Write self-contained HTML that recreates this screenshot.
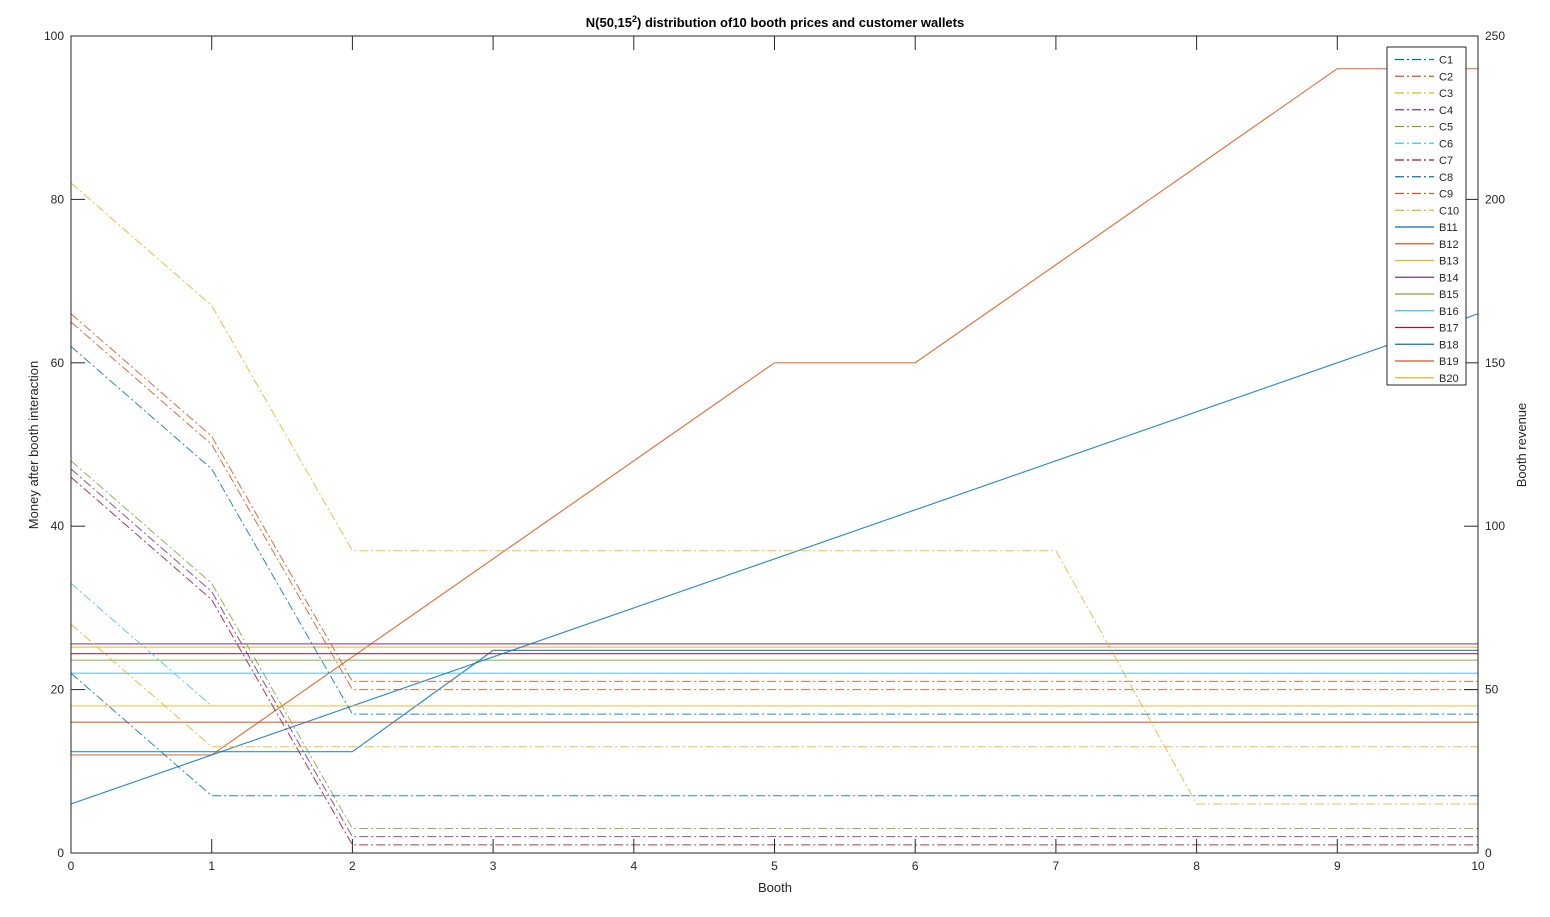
<!DOCTYPE html>
<html><head><meta charset="utf-8"><style>
body{margin:0;background:#fff}
svg text{font-family:"Liberation Sans",Arial,sans-serif;fill:#262626}
</style></head><body>
<svg id="chart" width="1550" height="912" xmlns="http://www.w3.org/2000/svg">
<rect x="0" y="0" width="1550" height="912" fill="#fff"/>
<g id="plot"></g>
<g id="axes"></g>
<g id="legend"></g>
</svg>
<script>
const booths=[0,1,2,3,4,5,6,7,8,9,10];
const custNames=["C1","C2","C3","C4","C5","C6","C7","C8","C9","C10"];
const C1=[62,47,17,17,17,17,17,17,17,17,17];
const C2=[66,51,21,21,21,21,21,21,21,21,21];
const C3=[82,67,37,37,37,37,37,37,6,6,6];
const C4=[47,32,2,2,2,2,2,2,2,2,2];
const C5=[48,33,3,3,3,3,3,3,3,3,3];
const C6=[33,18];
const C7=[46,31,1,1,1,1,1,1,1,1,1];
const C8=[22,7,7,7,7,7,7,7,7,7,7];
const C9=[65,50,20,20,20,20,20,20,20,20,20];
const C10=[28,13,13,13,13,13,13,13,13,13,13];
const boothNames=["B11","B12","B13","B14","B15","B16","B17","B18","B19","B20"];
const B11=[31,31,31,62,62,62,62,62,62,62,62];
const B12=[30,30,60,90,120,150,150,180,210,240,240];
const B13=[63,63,63,63,63,63,63,63,63,63,63];
const B14=[64,64,64,64,64,64,64,64,64,64,64];
const B15=[59,59,59,59,59,59,59,59,59,59,59];
const B16=[55,55,55,55,55,55,55,55,55,55,55];
const B17=[61,61,61,61,61,61,61,61,61,61,61];
const B18=[15,30,45,60,75,90,105,120,135,150,165];
const B19=[40,40,40,40,40,40,40,40,40,40,40];
const B20=[45,45,45,45,45,45,45,45,45,45,45];
const xTicks=[0,1,2,3,4,5,6,7,8,9,10];
const yLeftTicks=[0,20,40,60,80,100];
const yRightTicks=[0,50,100,150,200,250];
const colors=["#0072BD","#D95319","#EDB120","#7E2F8E","#77AC30","#4DBEEE","#A2142F"];

const X0=71,X1=1478,Y0=853,Y1=36;
const xs=v=>X0+(v-0)/10*(X1-X0);
const yl=v=>Y0-(v/100)*(Y0-Y1);
const yr=v=>Y0-(v/250)*(Y0-Y1);
const NS="http://www.w3.org/2000/svg";
function mk(tag,attrs,parent){const e=document.createElementNS(NS,tag);for(const k in attrs)e.setAttribute(k,attrs[k]);parent.appendChild(e);return e;}
const plot=document.getElementById('plot'),axes=document.getElementById('axes'),leg=document.getElementById('legend');

const boothData=[B11,B12,B13,B14,B15,B16,B17,B18,B19,B20];
boothData.forEach((d,i)=>{
  const pts=d.map((v,j)=>xs(booths[j])+","+yr(v)).join(" ");
  const p=mk('polyline',{points:pts,fill:"none",stroke:colors[i%7],"stroke-width":1.2,"stroke-opacity":0.8},plot);
  
  
});
const custData=[C1,C2,C3,C4,C5,C6,C7,C8,C9,C10];
custData.forEach((d,i)=>{
  const pts=d.map((v,j)=>xs(booths[j])+","+yl(v)).join(" ");
  const p=mk('polyline',{points:pts,fill:"none",stroke:colors[i%7],"stroke-width":1,"stroke-dasharray":"9,3,2,3","stroke-opacity":0.85},plot);
  
  
});

const box=mk('rect',{x:X0,y:Y1,width:X1-X0,height:Y0-Y1,fill:"none",stroke:"#262626","stroke-width":1},axes);


xTicks.forEach(t=>{
  const x=xs(t);
  mk('line',{x1:x,y1:Y0,x2:x,y2:Y0-14,stroke:"#262626"},axes);
  mk('line',{x1:x,y1:Y1,x2:x,y2:Y1+14,stroke:"#262626"},axes);
  const tx=mk('text',{x:x,y:Y0+17,"text-anchor":"middle","font-size":12},axes);tx.textContent=t;
  
  
});
yLeftTicks.forEach(t=>{
  const y=yl(t);
  mk('line',{x1:X0,y1:y,x2:X0+14,y2:y,stroke:"#262626"},axes);
  const tx=mk('text',{x:X0-7,y:y+4,"text-anchor":"end","font-size":12},axes);tx.textContent=t;
  
  
});
yRightTicks.forEach(t=>{
  const y=yr(t);
  mk('line',{x1:X1,y1:y,x2:X1-14,y2:y,stroke:"#262626"},axes);
  const tx=mk('text',{x:X1+7,y:y+4,"text-anchor":"start","font-size":12},axes);tx.textContent=t;
  
  
});
const lb=mk('rect',{x:1387,y:47,width:79,height:338,fill:"#fff",stroke:"#262626","stroke-width":1},leg);


const allNames=custNames.concat(boothNames);
allNames.forEach((n,i)=>{
  const y=59.5+i*16.75;
  const isC=i<10;
  const ln=mk('line',{x1:1395,y1:y,x2:1434,y2:y,stroke:colors[(i%10)%7],"stroke-width":1.2},leg);
  if(isC)ln.setAttribute('stroke-dasharray','9,3,2,3');
  
  
  const t=mk('text',{x:1439,y:y+4,"font-size":11},leg);t.textContent=n;
  
  
});
</script>
<svg style="position:absolute;left:0;top:0" width="1550" height="912">
<text x="775" y="27" text-anchor="middle" font-size="13" font-weight="bold" style="font-family:'Liberation Sans',Arial,sans-serif;fill:#000">N(50,15<tspan dy="-5" font-size="9">2</tspan><tspan dy="5">) distribution of10 booth prices and customer wallets</tspan></text>
<text x="775" y="892" text-anchor="middle" font-size="13" style="font-family:'Liberation Sans',Arial,sans-serif;fill:#262626">Booth</text>
<text x="38" y="445" text-anchor="middle" font-size="13" transform="rotate(-90 38 445)" style="font-family:'Liberation Sans',Arial,sans-serif;fill:#262626">Money after booth interaction</text>
<text x="1526" y="445" text-anchor="middle" font-size="13" transform="rotate(-90 1526 445)" style="font-family:'Liberation Sans',Arial,sans-serif;fill:#262626">Booth revenue</text>
</svg>
</body></html>
